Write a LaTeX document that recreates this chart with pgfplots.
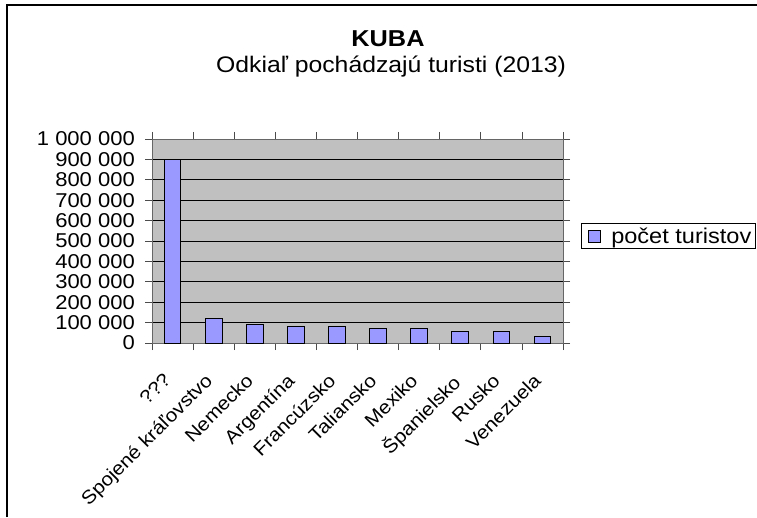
\documentclass[border=0pt]{standalone}
\usepackage{fontspec}
\setmainfont{Liberation Sans}[FakeStretch=1.1]
\usepackage{pgfplots}
\pgfplotsset{compat=1.18}
\definecolor{plotgray}{HTML}{C0C0C0}
\definecolor{barblue}{HTML}{9999FF}
\begin{document}
\begin{tikzpicture}[x=1pt,y=1pt]
\useasboundingbox (0,0) rectangle (757,517);
\draw[line width=1.2pt] (7,0) -- (7,512) -- (757,512);
\node[font=\fontsize{23}{23}\selectfont\bfseries, anchor=base, inner sep=0pt] at (388,470) {KUBA};
\node[font=\fontsize{22.5}{22.5}\selectfont, anchor=base, inner sep=0pt] at (391,444) {Odkiaľ pochádzajú turisti (2013)};
\begin{axis}[
  at={(152pt,174pt)}, anchor=south west,
  scale only axis, width=411pt, height=204pt,
  xmin=-0.5, xmax=9.5, ymin=0, ymax=1000000,
  scaled y ticks=false,
  axis background/.style={fill=plotgray},
  axis line style={draw=black!60, line width=0.8pt},
  ytick={0,100000,...,1000000},
  yticklabels={0,100 000,200 000,300 000,400 000,500 000,600 000,700 000,800 000,900 000,1 000 000},
  ymajorgrids, major grid style={black, line width=0.7pt},
  xtick={0,...,9},
  xticklabels={???,Spojené kráľovstvo,Nemecko,Argentína,Francúzsko,Taliansko,Mexiko,Španielsko,Rusko,Venezuela},
  minor xtick={-0.5,0.5,...,9.5},
  x tick style={draw=none},
  minor x tick style={draw=black!70, line width=0.8pt},
  y tick style={draw=black!70, line width=0.8pt},
  tick align=outside, major tick length=7pt, minor tick length=7pt,
  yticklabel style={font=\fontsize{20}{20}\selectfont, inner sep=0pt, xshift=-10pt},
  xticklabel style={font=\fontsize{18.8}{18.8}\selectfont, xshift=-10pt, yshift=-22pt, rotate=45, anchor=north east, inner sep=0pt},
  /pgf/number format/assume math mode=true,
  legend style={at={(1.0438,0.5245)}, anchor=west, draw=black, line width=0.6pt,
    font=\fontsize{21.4}{21.4}\selectfont, inner xsep=2pt, inner ysep=2pt},
  legend image code/.code={\path[draw=none, fill=none] (0pt,0pt) -- (26pt,0pt); \draw[#1, line width=0.8pt] (5pt,-6pt) rectangle (17pt,6pt);},
]
\addplot[ybar, bar width=16.7pt, fill=barblue, draw=black, line width=1pt]
  coordinates {(0,900000) (1,119000) (2,92000) (3,80000) (4,80000) (5,72000) (6,72000) (7,57000) (8,57000) (9,33000)};
\addlegendentry{počet turistov}
\end{axis}
\end{tikzpicture}
\end{document}
